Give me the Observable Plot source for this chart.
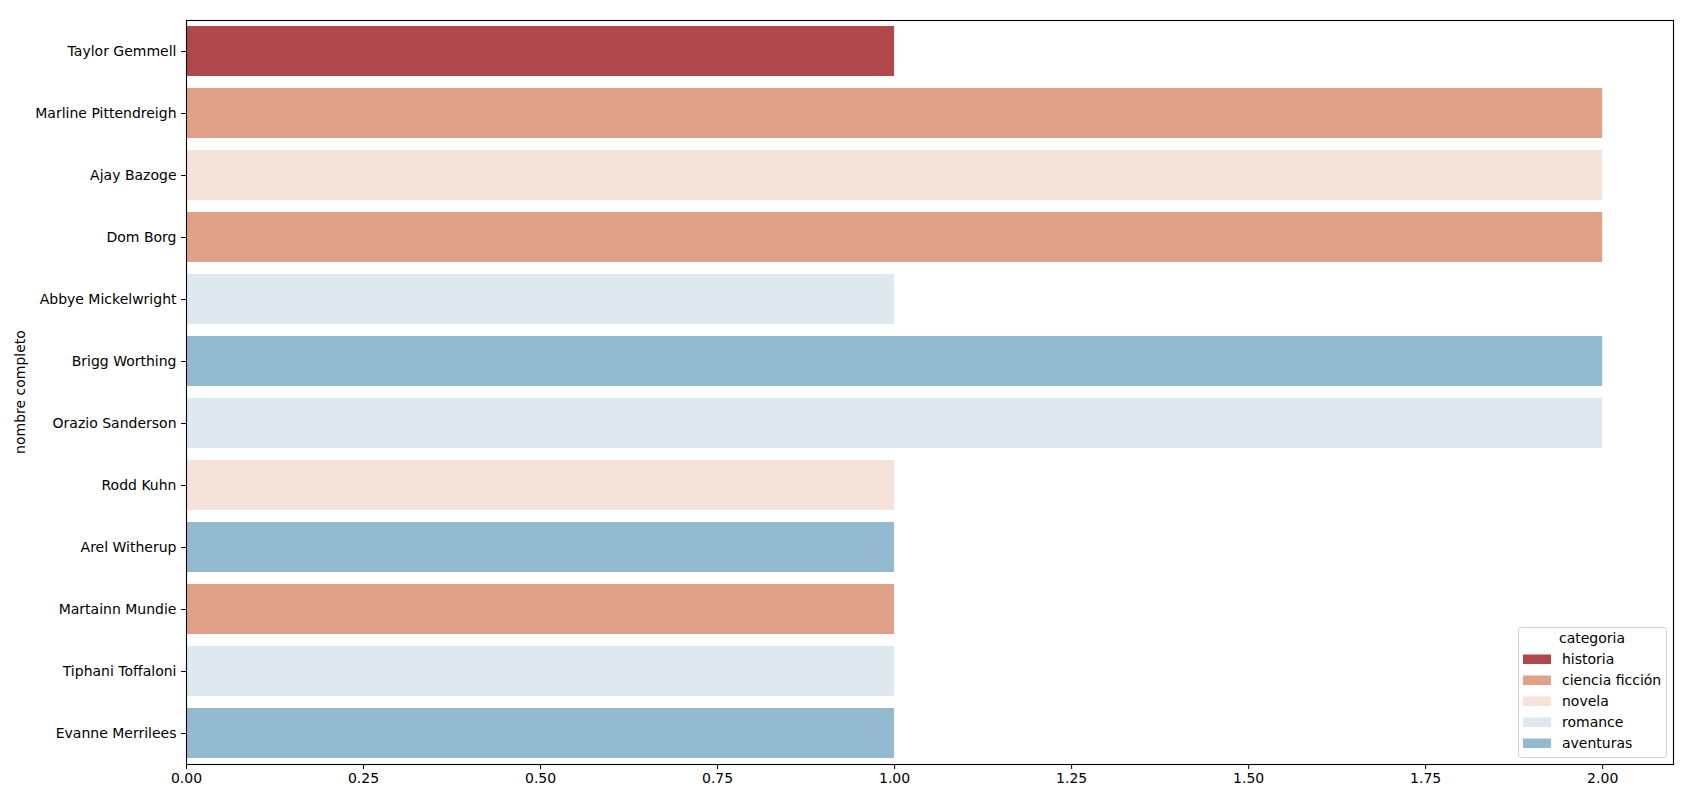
<!DOCTYPE html>
<html>
<head>
<meta charset="utf-8">
<script src="https://cdn.jsdelivr.net/npm/d3@7"></script>
<script src="https://cdn.jsdelivr.net/npm/@observablehq/plot@0.6"></script>
<style>
  html, body { margin: 0; padding: 0; background: white; }
  #chart { position: relative; width: 1683px; height: 793px; }
</style>
</head>
<body>
<div id="chart"></div>
<script>
const names = ["Taylor Gemmell", "Marline Pittendreigh", "Ajay Bazoge", "Dom Borg", "Abbye Mickelwright", "Brigg Worthing", "Orazio Sanderson", "Rodd Kuhn", "Arel Witherup", "Martainn Mundie", "Tiphani Toffaloni", "Evanne Merrilees"];
const values = [1, 2, 2, 2, 1, 2, 2, 1, 1, 1, 1, 1];
const cats = ["historia", "ciencia ficción", "novela", "ciencia ficción", "romance", "aventuras", "romance", "novela", "aventuras", "ciencia ficción", "romance", "aventuras"];
const categories = ["historia", "ciencia ficción", "novela", "romance", "aventuras"];
const colors = ["#af474b", "#e1a188", "#f5e3d9", "#dee9ef", "#93bacf"];
const xTicks = [0, 0.25, 0.5, 0.75, 1.0, 1.25, 1.5, 1.75, 2.0];

const data = names.map((n, i) => ({name: n, value: values[i], categoria: cats[i]}));
const fmt = d => d.toFixed(2);

const plot = Plot.plot({
  width: 1683,
  height: 793,
  marginLeft: 186,
  marginRight: 10,
  marginTop: 20,
  marginBottom: 29,
  style: {fontFamily: "DejaVu Sans", fontSize: "14px", color: "black", background: "white"},
  x: {domain: [0, 2.1]},
  y: {domain: names, paddingInner: 0.2, paddingOuter: 0.1},
  color: {domain: categories, range: colors},
  marks: [
    Plot.barX(data, {x: "value", y: "name", fill: "categoria"}),
    Plot.axisX({ticks: xTicks, tickFormat: fmt, tickSize: 5, tickPadding: 4, label: null, fontSize: 14}),
    Plot.axisY({tickSize: 5, tickPadding: 5, label: null, fontSize: 14}),
    Plot.frame({stroke: "black", strokeWidth: 1.1})
  ]
});

document.getElementById("chart").appendChild(plot);

const svg = d3.select(plot);
// y axis label
svg.append("text")
  .attr("transform", "translate(20,392) rotate(-90)")
  .attr("text-anchor", "middle")
  .attr("dominant-baseline", "central")
  .attr("font-family", "DejaVu Sans")
  .attr("font-size", "14px")
  .attr("fill", "black")
  .text("nombre completo");

// legend
const colorScale = plot.scale("color");
const lg = svg.append("g").attr("font-family", "DejaVu Sans").attr("font-size", "14px").attr("text-anchor", "start");
lg.append("rect")
  .attr("x", 1518.5).attr("y", 627.5).attr("width", 148).attr("height", 130)
  .attr("rx", 3).attr("fill", "white").attr("fill-opacity", 0.8)
  .attr("stroke", "#d0d0d0").attr("stroke-width", 1);
lg.append("text")
  .attr("x", 1592).attr("y", 638).attr("text-anchor", "middle")
  .attr("dominant-baseline", "central").attr("fill", "black")
  .text("categoria");
colorScale.domain.forEach((c, i) => {
  const cy = 659 + i * 21;
  lg.append("rect")
    .attr("x", 1523).attr("y", cy - 4.5).attr("width", 28).attr("height", 9.5)
    .attr("fill", colorScale.apply(c));
  lg.append("text")
    .attr("x", 1562).attr("y", cy).attr("text-anchor", "start").attr("dominant-baseline", "central")
    .attr("fill", "black").text(c);
});
</script>
</body>
</html>
